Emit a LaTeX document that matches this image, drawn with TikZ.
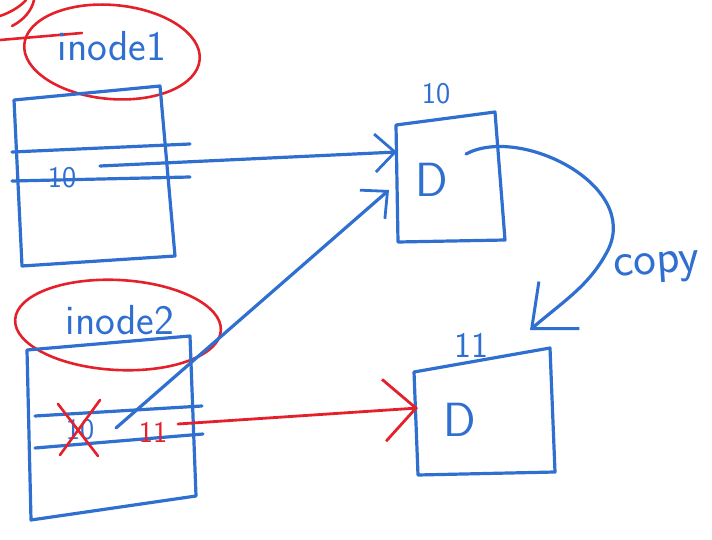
\documentclass[tikz,border=0pt]{standalone}
\usetikzlibrary{arrows.meta}
\definecolor{pen}{HTML}{2F6FD0}
\definecolor{ink}{HTML}{E4212B}
\begin{document}
\begin{tikzpicture}[x=1pt,y=-1pt,
  stroke/.style={line width=3.2pt,line cap=round,line join=round},
  bluepen/.style={stroke,draw=pen},
  redpen/.style={stroke,draw=ink,line width=2.6pt},
  tag/.style={font=\sffamily\fontsize{42}{42}\selectfont,text=pen,inner sep=0pt},
  small/.style={font=\sffamily\fontsize{30}{30}\selectfont,inner sep=0pt},
  barb/.style={-{Straight Barb[length=20pt,width=38pt,line width=2.8pt]}}]
\useasboundingbox (0,0) rectangle (712,540);

% stray red marks at the top left
\draw[redpen] (0,16) .. controls (12,12) and (22,5) .. (26,0);
\draw[redpen] (12,26) .. controls (24,20) and (32,10) .. (34,0);
\draw[redpen] (0,40) -- (82,33);

% inode 1
\draw[redpen] (112,52) ellipse [x radius=88, y radius=47, rotate=-5];
\node[tag] (lab1) at (112,46) {inode1};
\coordinate (a1) at (14,100); \coordinate (b1) at (160,86);
\coordinate (c1) at (175,256); \coordinate (d1) at (22,266);
\draw[bluepen] (a1) -- (b1) -- (c1) -- (d1) -- cycle;
\coordinate (r1a) at (12,152); \coordinate (r1b) at (190,144);
\coordinate (r1c) at (12,181); \coordinate (r1d) at (190,177);
\draw[bluepen] (r1a) -- (r1b);
\draw[bluepen] (r1c) -- (r1d);
\node[small,text=pen] (p1) at (62,178) {10};
\coordinate (s1) at (100,166);

% inode 2
\draw[redpen] (118,325) ellipse [x radius=103, y radius=45, rotate=-3];
\node[tag] (lab2) at (120,320) {inode2};
\coordinate (a2) at (27,350); \coordinate (b2) at (190,336);
\coordinate (c2) at (196,496); \coordinate (d2) at (31,520);
\draw[bluepen] (a2) -- (b2) -- (c2) -- (d2) -- cycle;
\coordinate (r2a) at (35,416); \coordinate (r2b) at (202,406);
\coordinate (r2c) at (35,448); \coordinate (r2d) at (203,434);
\draw[bluepen] (r2a) -- (r2b);
\draw[bluepen] (r2c) -- (r2d);
\node[small,text=pen] (old) at (80,430) {10};
\draw[redpen] (58,404) -- (98,456);
\draw[redpen] (100,400) -- (60,455);
\node[small,text=ink] (new) at (153,432) {11};
\coordinate (s2) at (116,428);
\coordinate (s3) at (178,424);

% data block 10
\coordinate (a3) at (396,125); \coordinate (b3) at (495,112);
\coordinate (c3) at (505,240); \coordinate (d3) at (398,242);
\draw[bluepen] (a3) -- (b3) -- (c3) -- (d3) -- cycle;
\node[small,text=pen] (n10) at (436,94) {10};
\node[tag,font=\sffamily\fontsize{48}{48}\selectfont] (d10) at (432,180) {D};
\coordinate (in1) at (397,152);
\coordinate (in2) at (389,190);
\coordinate (cp) at (466,154);

% data block 11
\coordinate (a4) at (414,372); \coordinate (b4) at (550,348);
\coordinate (c4) at (555,472); \coordinate (d4) at (418,475);
\draw[bluepen] (a4) -- (b4) -- (c4) -- (d4) -- cycle;
\node[small,text=pen,font=\sffamily\fontsize{36}{36}\selectfont] (n11) at (471,345) {11};
\node[tag,font=\sffamily\fontsize{48}{48}\selectfont] (d11) at (460,420) {D};
\coordinate (in3) at (418,408);
\coordinate (cpend) at (530,330);

% pointers
\draw[bluepen,barb] (s1) -- (in1);
\draw[bluepen,barb] (s2) -- (in2);
\draw[redpen,line width=2.8pt,-{Straight Barb[length=32pt,width=62pt,line width=2.8pt]}] (s3) -- (in3);

% copy arrow
\draw[bluepen,-{Straight Barb[length=36pt,width=62pt,line width=3pt]}] (cp)
  .. controls (520,125) and (640,185) .. (608,250)
  .. controls (590,285) and (565,300) .. (cpend);
\node[font=\sffamily\fontsize{48}{48}\selectfont,text=pen,rotate=4,inner sep=0pt] (copy) at (657,268) {copy};
\end{tikzpicture}
\end{document}
